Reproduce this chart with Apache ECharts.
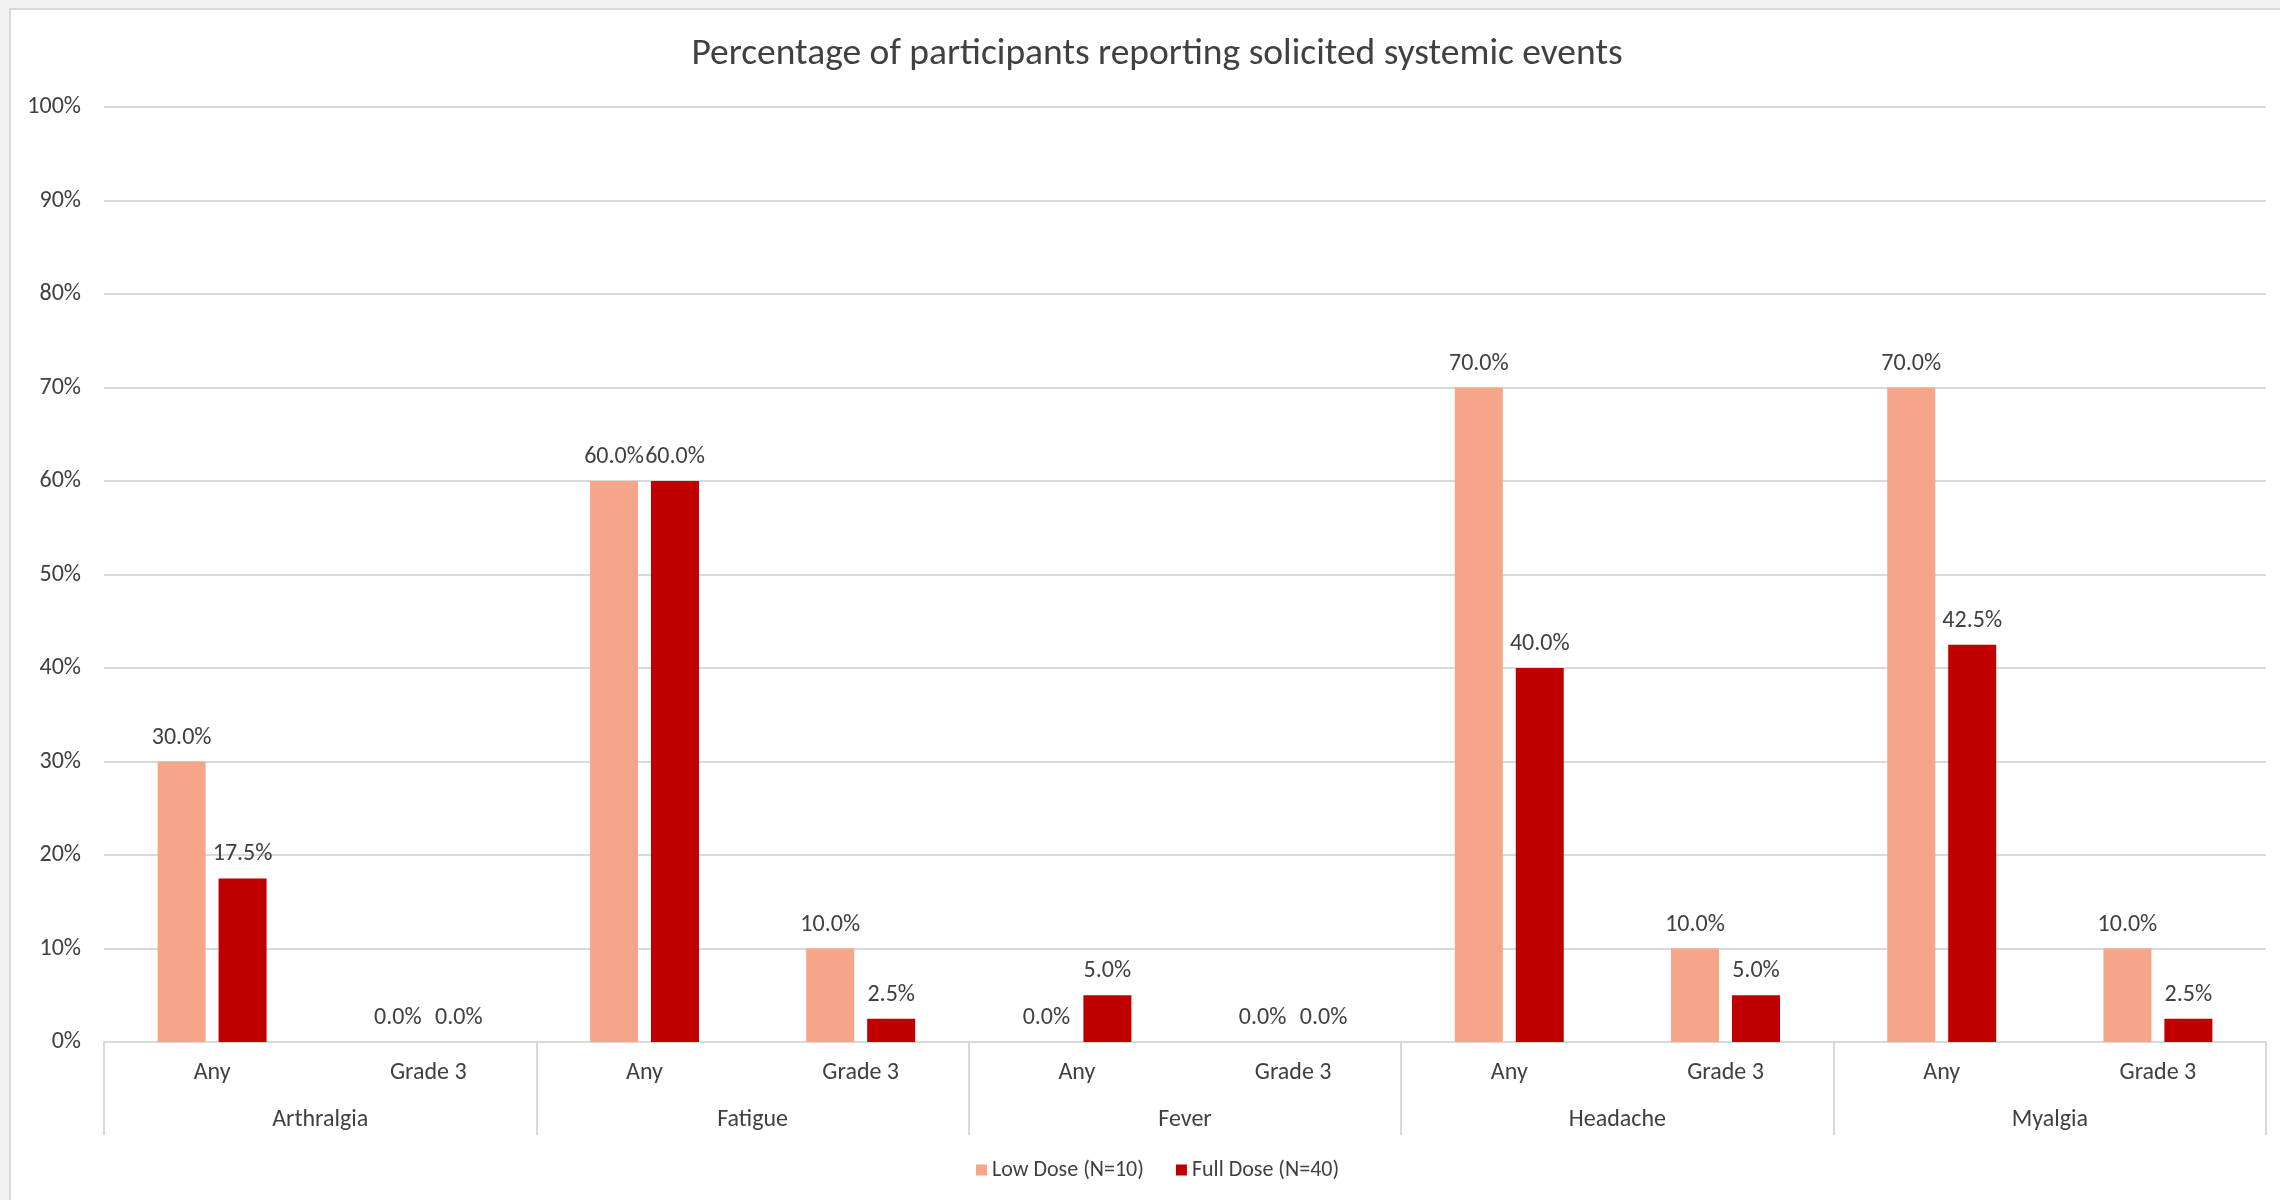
<!DOCTYPE html>
<html>
<head>
<meta charset="utf-8">
<title>Percentage of participants reporting solicited systemic events</title>
<script src="https://cdn.jsdelivr.net/npm/echarts@6/dist/echarts.min.js"></script>
<style>
  html, body { margin: 0; padding: 0; background: #f2f2f2; }
  #panel {
    position: absolute; left: 9px; top: 8px; width: 2271px; height: 1192px;
    background: #ffffff; border-left: 2px solid #d9d9d9; border-top: 2px solid #d9d9d9;
    box-sizing: border-box;
  }
  #chart { position: absolute; left: 0; top: 0; width: 2280px; height: 1200px; }
</style>
</head>
<body>
<div id="panel"></div>
<div id="chart"></div>
<script>
// Solicited systemic events by symptom and severity
const symptoms = ['Arthralgia', 'Fatigue', 'Fever', 'Headache', 'Myalgia'];
const severities = ['Any', 'Grade 3'];
const lowDoseName = 'Low Dose (N=10)';
const fullDoseName = 'Full Dose (N=40)';
// percentages, ordered symptom by symptom: Any, Grade 3
const lowDose = [30.0, 0.0, 60.0, 10.0, 0.0, 0.0, 70.0, 10.0, 70.0, 10.0];
const fullDose = [17.5, 0.0, 60.0, 2.5, 5.0, 0.0, 40.0, 5.0, 42.5, 2.5];
const yTicks = [0, 10, 20, 30, 40, 50, 60, 70, 80, 90, 100];

const FONT = 'Carlito, "Open Sans", sans-serif';
const TEXT = '#404040';
const LINE = '#d9d9d9';

// one category per symptom/severity pair on the inner axis
const innerCats = [];
symptoms.forEach(() => severities.forEach(s => innerCats.push(s)));

const chart = echarts.init(document.getElementById('chart'), null, { renderer: 'canvas' });

const valueLabel = {
  show: true,
  position: 'top',
  distance: 12,
  color: TEXT,
  fontFamily: FONT,
  fontSize: 24,
  formatter: p => p.value.toFixed(1) + '%'
};

chart.setOption({
  animation: false,
  textStyle: { fontFamily: FONT },
  title: {
    text: 'Percentage of participants reporting solicited systemic events',
    left: 1152,
    textAlign: 'center',
    top: 31,
    textStyle: { color: TEXT, fontFamily: FONT, fontSize: 37.5, fontWeight: 'normal' }
  },
  legend: {
    left: 971,
    top: 1154,
    itemWidth: 11,
    itemHeight: 11,
    itemGap: 32,
    icon: 'rect',
    textStyle: { color: TEXT, fontFamily: FONT, fontSize: 22 },
    data: [lowDoseName, fullDoseName]
  },
  grid: { left: 104, right: 14, top: 107, bottom: 158, containLabel: false },
  xAxis: [
    {
      type: 'category',
      data: innerCats,
      position: 'bottom',
      axisLine: { show: true, lineStyle: { color: LINE, width: 2 } },
      axisTick: { show: false },
      axisLabel: { color: TEXT, fontFamily: FONT, fontSize: 24, margin: 19, interval: 0 }
    },
    {
      type: 'category',
      data: symptoms,
      position: 'bottom',
      axisLine: { show: false },
      axisTick: { show: true, length: 93, interval: 0, lineStyle: { color: LINE, width: 2 } },
      axisLabel: { color: TEXT, fontFamily: FONT, fontSize: 24, margin: 66, interval: 0 },
      splitLine: { show: false }
    }
  ],
  yAxis: {
    type: 'value',
    min: yTicks[0],
    max: yTicks[yTicks.length - 1],
    interval: yTicks[1] - yTicks[0],
    axisLine: { show: false },
    axisTick: { show: false },
    axisLabel: { color: TEXT, fontFamily: FONT, fontSize: 24, margin: 23, formatter: v => v + '%' },
    splitLine: { lineStyle: { color: LINE, width: 2 } }
  },
  series: [
    {
      name: lowDoseName,
      type: 'bar',
      xAxisIndex: 0,
      data: lowDose,
      barWidth: 48,
      barGap: '27%',
      itemStyle: { color: '#f5a588' },
      label: valueLabel
    },
    {
      name: fullDoseName,
      type: 'bar',
      xAxisIndex: 0,
      data: fullDose,
      barWidth: 48,
      barGap: '27%',
      itemStyle: { color: '#c00000' },
      label: valueLabel
    }
  ]
});
</script>
</body>
</html>
